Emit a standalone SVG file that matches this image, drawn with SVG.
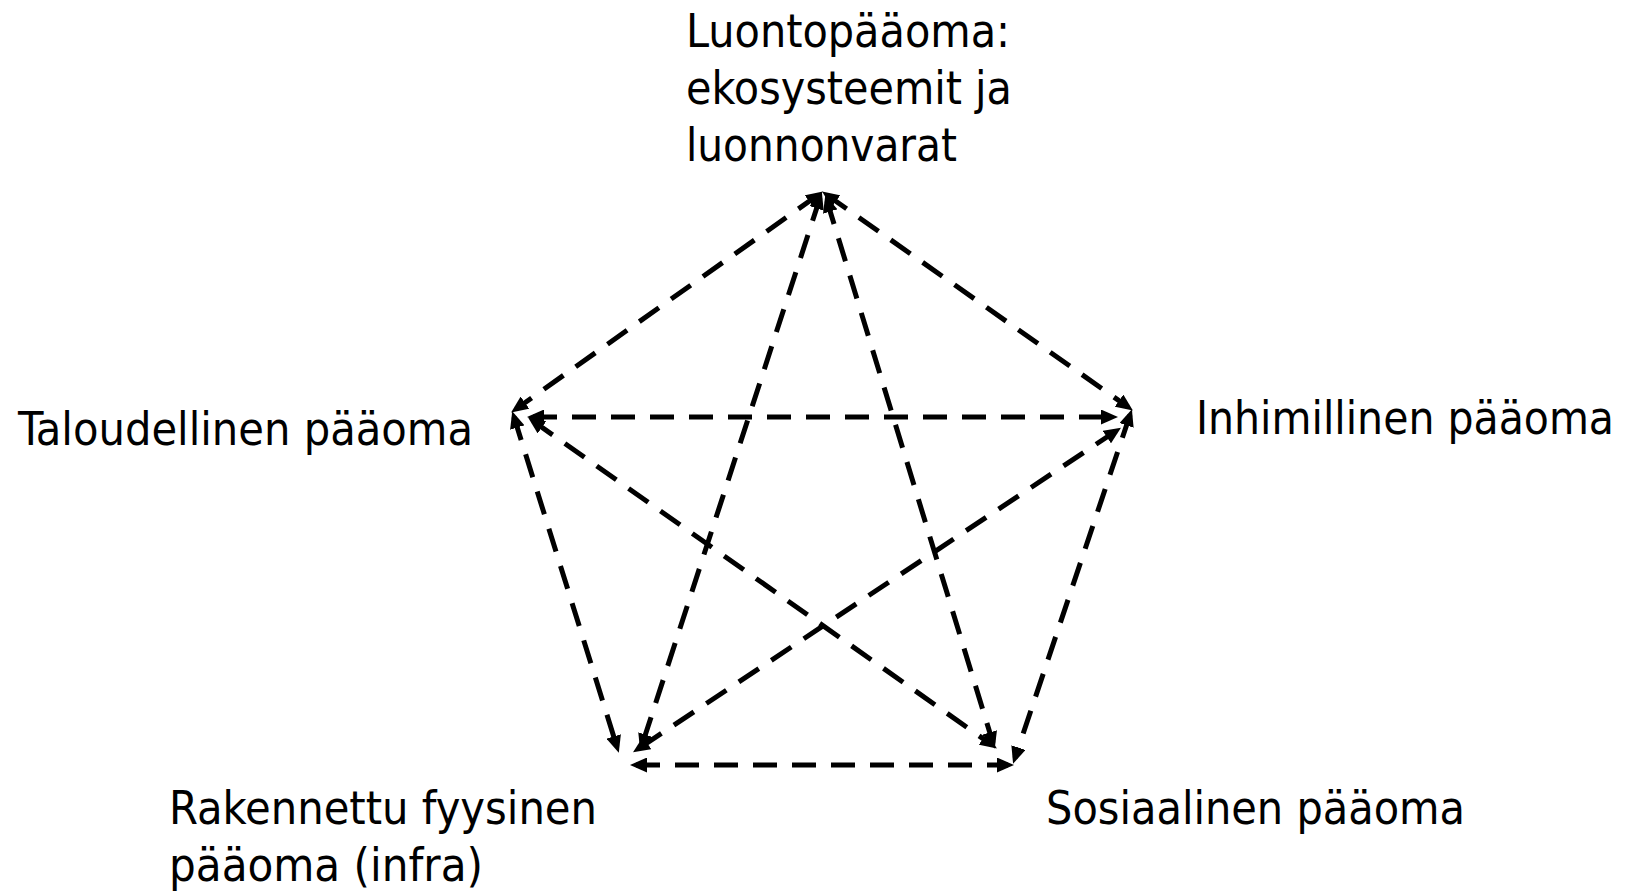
<svg xmlns="http://www.w3.org/2000/svg" width="1635" height="891" viewBox="0 0 1635 891">
<style>
.lbl{font-family:"DejaVu Sans Condensed","Liberation Sans",sans-serif;font-size:46px;fill:#000}
.con{fill:none;stroke:#000;stroke-width:5;stroke-dasharray:24 15;marker-start:url(#ah);marker-end:url(#ah)}
</style>
<defs>
<marker id="ah" viewBox="0 0 17 15" refX="11" refY="7.5" markerWidth="17" markerHeight="15" markerUnits="userSpaceOnUse" orient="auto-start-reverse">
<path d="M0,0 L17,7.5 L0,15 z" fill="#000"/>
</marker>
</defs>
<rect width="1635" height="891" fill="#fff"/>
<g id="connectors">
<line class="con" x1="818" y1="195" x2="516" y2="409"/>
<line class="con" x1="827" y1="195" x2="1128" y2="407"/>
<line class="con" x1="533" y1="417" x2="1112" y2="417"/>
<line class="con" x1="820" y1="198" x2="642" y2="745"/>
<line class="con" x1="827" y1="201" x2="993" y2="743"/>
<line class="con" x1="514" y1="417" x2="617" y2="747"/>
<line class="con" x1="533" y1="421" x2="992" y2="745"/>
<line class="con" x1="1116" y1="431" x2="638" y2="749"/>
<line class="con" x1="1130" y1="415" x2="1015" y2="758"/>
<line class="con" x1="636" y1="765" x2="1008" y2="765"/>
</g>
<g id="node-luonto">
<text class="lbl" x="686" y="47" textLength="324" lengthAdjust="spacingAndGlyphs">Luontopääoma:</text>
<text class="lbl" x="686" y="104" textLength="326" lengthAdjust="spacingAndGlyphs">ekosysteemit ja</text>
<text class="lbl" x="686" y="161" textLength="271" lengthAdjust="spacingAndGlyphs">luonnonvarat</text>
</g>
<g id="node-talous">
<text class="lbl" x="18" y="445" textLength="455" lengthAdjust="spacingAndGlyphs">Taloudellinen pääoma</text>
</g>
<g id="node-inhimillinen">
<text class="lbl" x="1196" y="434" textLength="418" lengthAdjust="spacingAndGlyphs">Inhimillinen pääoma</text>
</g>
<g id="node-rakennettu">
<text class="lbl" x="169" y="824" textLength="428" lengthAdjust="spacingAndGlyphs">Rakennettu fyysinen</text>
<text class="lbl" x="169" y="881" textLength="314" lengthAdjust="spacingAndGlyphs">pääoma (infra)</text>
</g>
<g id="node-sosiaalinen">
<text class="lbl" x="1046" y="824" textLength="419" lengthAdjust="spacingAndGlyphs">Sosiaalinen pääoma</text>
</g>
</svg>
